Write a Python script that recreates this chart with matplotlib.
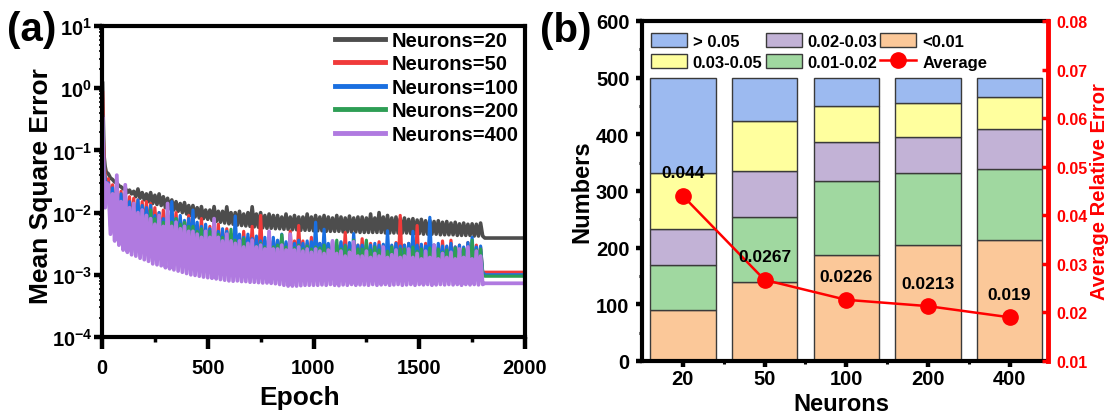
import numpy as np
import matplotlib
matplotlib.use('Agg')
import matplotlib.pyplot as plt
from matplotlib.patches import Patch
from matplotlib.lines import Line2D
from matplotlib.ticker import FixedLocator, FixedFormatter, LogLocator, NullFormatter, MultipleLocator

plt.rcParams['font.family'] = ['Liberation Sans', 'DejaVu Sans']
plt.rcParams['font.weight'] = 'bold'
plt.rcParams['axes.labelweight'] = 'bold'
plt.rcParams['mathtext.fontset'] = 'custom'
plt.rcParams['mathtext.rm'] = 'Liberation Sans:bold'
plt.rcParams['mathtext.bf'] = 'Liberation Sans:bold'
plt.rcParams['mathtext.it'] = 'Liberation Sans:bold'

# ---------------- data, panel (a): MSE vs epoch (values in units of 1e-3) ----------------
early_epochs = [3, 6, 10, 15, 20]
peak_epochs = list(range(30, 1791, 20))     # 89 local maxima
trough_epochs = list(range(40, 1801, 20))   # 89 local minima
tail_epochs = [1810, 2000]

n20_early = [1200, 320, 80, 55, 45]
n20_peaks = [42, 34, 30, 26, 25, 23, 22, 24, 21, 20,
             21, 19, 20, 18, 17, 16, 15, 14, 14.5, 13,
             13, 12, 12.5, 11, 11, 12.5, 10.5, 10.5, 12.4, 10,
             10, 10.5, 9.5, 10, 12.4, 9.5, 10, 9, 9.5, 9,
             9, 8.5, 9.5, 8.5, 9, 8.5, 8.5, 9.5, 8.5, 9,
             8.5, 9, 8.5, 8.2, 9, 8.5, 8.2, 8.8, 8.2, 8.5,
             8.5, 8.2, 9.5, 8.2, 10, 8.5, 9, 8.2, 8.5, 8,
             8.2, 7.8, 8, 7.6, 7.8, 7.4, 7.5, 7.2, 7.4, 7,
             7.2, 6.8, 7, 6.6, 6.8, 6.5, 6.6, 6.5, 6.8]
n20_troughs = [36, 31, 27, 24, 21, 20, 18, 17, 16, 15,
               14, 13.5, 13, 12, 11.5, 11, 10.5, 10, 9.5, 9,
               8.5, 8.2, 8, 7.8, 7.5, 7.2, 7, 6.8, 6.6, 6.5,
               6.3, 6.2, 6.1, 6, 5.9, 5.8, 5.7, 5.6, 5.6, 5.5,
               5.5, 5.4, 5.4, 5.3, 5.3, 5.2, 5.2, 5.2, 5.1, 5.1,
               5.1, 5.0, 5.0, 5.0, 5.0, 4.9, 4.9, 4.9, 4.9, 4.8,
               4.8, 4.8, 4.8, 4.8, 4.8, 4.7, 4.7, 4.7, 4.7, 4.7,
               4.7, 4.6, 4.6, 4.6, 4.5, 4.5, 4.5, 4.5, 4.4, 4.4,
               4.4, 4.4, 4.3, 4.3, 4.3, 4.3, 4.2, 4.2, 4.2]
n20_final = 3.9

n50_early = [850, 200, 60, 40, 30]
n50_peaks = [35, 28, 25, 22, 20, 18, 17, 16, 15, 15,
             14, 12, 10, 11, 9, 8, 10, 8, 7, 9,
             7, 6, 8, 5.5, 6, 5, 6.5, 5, 5.5, 4.5,
             4.5, 4, 5, 4, 6, 4, 9, 3.5, 4, 3.5,
             3.5, 4, 3.2, 5, 3.5, 6.2, 3.5, 3.2, 4, 3.2,
             3.2, 3.6, 3, 3.4, 3, 3.3, 4.8, 3, 3.2, 3,
             3.8, 3, 3.2, 2.9, 3.4, 3, 3.2, 2.9, 3.3, 9,
             3, 3.2, 3, 6.2, 2.9, 3.2, 2.8, 3, 2.8, 3.5,
             2.8, 3.6, 2.8, 3.0, 2.7, 3.3, 2.7, 3.0, 2.8]
n50_troughs = [14, 10, 8, 7, 6.5, 6, 5.5, 5, 4.8, 4.5,
               4.2, 4, 3.8, 3.6, 3.4, 3.2, 3, 2.9, 2.8, 2.7,
               2.6, 2.5, 2.4, 2.3, 2.2, 2.1, 2.0, 2.0, 1.9, 1.9,
               1.8, 1.8, 1.7, 1.7, 1.6, 1.6, 1.6, 1.5, 1.5, 1.5,
               1.5, 1.4, 1.4, 1.4, 1.4, 1.3, 1.3, 1.3, 1.3, 1.3,
               1.3, 1.3, 1.25, 1.25, 1.25, 1.2, 1.2, 1.2, 1.2, 1.2,
               1.2, 1.2, 1.2, 1.15, 1.15, 1.15, 1.15, 1.15, 1.1, 1.1,
               1.1, 1.1, 1.1, 1.1, 1.1, 1.1, 1.1, 1.1, 1.1, 1.1,
               1.1, 1.1, 1.1, 1.1, 1.1, 1.1, 1.1, 1.1, 1.1]
n50_final = 1.1

n100_early = [350, 100, 45, 35, 28]
n100_peaks = [30, 25, 22, 20, 17, 15, 14, 16, 13, 12,
              13, 9, 10, 8, 9, 15, 8, 9, 7.5, 8,
              11, 7, 6, 6.5, 5.5, 6, 5, 5.5, 5, 4.5,
              8.8, 4.5, 4, 4.5, 3.8, 4.2, 3.5, 4, 3.5, 4,
              3.6, 4.5, 3.4, 3.8, 3.2, 3.6, 3.2, 3.5, 3.4, 7,
              3.2, 5.4, 3.2, 3.5, 3.0, 3.4, 3.0, 3.3, 4.6, 3.0,
              3.0, 3.4, 3.0, 3.2, 3.0, 3.1, 5.1, 3.0, 3.2, 2.9,
              3.0, 3.2, 5.0, 3.0, 3.1, 2.9, 8.4, 3.0, 3.2, 2.9,
              2.9, 3.2, 2.8, 3.0, 2.8, 3.3, 4.0, 2.8, 2.9]
n100_troughs = [10, 8, 7, 6, 5.5, 5, 4.8, 4.5, 4.3, 4,
                3.8, 3.6, 3.4, 3.2, 3, 2.9, 2.8, 2.7, 2.6, 2.5,
                2.4, 2.3, 2.2, 2.1, 2.0, 2.0, 1.9, 1.9, 1.8, 1.8,
                1.7, 1.7, 1.7, 1.6, 1.6, 1.6, 1.5, 1.5, 1.5, 1.5,
                1.45, 1.45, 1.4, 1.4, 1.4, 1.4, 1.35, 1.35, 1.35, 1.35,
                1.3, 1.3, 1.3, 1.3, 1.3, 1.25, 1.25, 1.25, 1.25, 1.25,
                1.2, 1.2, 1.2, 1.2, 1.2, 1.2, 1.2, 1.2, 1.2, 1.2,
                1.15, 1.15, 1.15, 1.15, 1.15, 1.15, 1.15, 1.15, 1.15, 1.15,
                1.1, 1.1, 1.1, 1.1, 1.1, 1.1, 1.1, 1.1, 1.1]
n100_final = 1.0

n200_early = [300, 90, 35, 28, 25]
n200_peaks = [25, 20, 18, 15, 13, 11, 12, 10, 10, 9,
              11, 8, 9, 7, 10, 7, 8, 6.5, 7, 6,
              6, 5, 5.5, 4.5, 5, 4.2, 4.5, 4, 4, 5.4,
              3.6, 3.2, 3.8, 3, 3.4, 2.9, 3.2, 2.8, 3.3, 2.8,
              3, 4.4, 2.8, 3.2, 2.7, 3, 2.6, 2.9, 2.6, 2.8,
              2.7, 3, 2.6, 2.8, 3.6, 2.6, 2.9, 2.5, 3.6, 2.6,
              2.6, 3.6, 2.5, 2.8, 2.5, 2.7, 2.4, 2.8, 2.5, 2.6,
              2.6, 2.4, 2.8, 2.4, 2.6, 2.3, 2.7, 2.4, 2.6, 2.3,
              2.5, 2.3, 2.7, 2.4, 2.6, 2.3, 3.6, 2.5, 2.6]
n200_troughs = [6, 4.5, 3.5, 2.8, 2.4, 2.3, 2.5, 3, 3, 3,
                2.8, 2.6, 2.5, 2.4, 2.3, 2.2, 2.1, 2.0, 1.9, 1.8,
                1.7, 1.6, 1.6, 1.5, 1.5, 1.4, 1.4, 1.4, 1.3, 1.3,
                1.3, 1.25, 1.25, 1.2, 1.2, 1.2, 1.15, 1.15, 1.15, 1.1,
                1.1, 1.1, 1.1, 1.1, 1.1, 1.1, 1.1, 1.1, 1.1, 1.1,
                1.05, 1.05, 1.05, 1.05, 1.05, 1.05, 1.05, 1.05, 1.05, 1.05,
                1.0, 1.0, 1.0, 1.0, 1.0, 1.0, 1.0, 1.0, 1.0, 1.0,
                1.0, 1.0, 1.0, 1.0, 1.0, 1.0, 1.0, 1.0, 1.0, 1.0,
                1.0, 1.0, 1.0, 1.0, 1.0, 1.0, 1.0, 1.0, 1.0]
n200_final = 0.95

n400_early = [320, 90, 25, 12, 30]
n400_peaks = [28, 20, 40, 15, 28, 12, 14, 10, 11, 9,
              8, 6.5, 9, 6, 14, 6, 7, 5.5, 6, 5,
              5, 4.5, 4, 5, 4, 8, 4, 3.5, 4.5, 3.5,
              3.2, 3.5, 2.8, 3.2, 3.6, 2.8, 3, 2.6, 5, 2.6,
              2.6, 3, 2.5, 4.5, 2.5, 2.8, 2.4, 2.6, 2.3, 2.6,
              2.4, 2.2, 2.5, 3.5, 2.2, 2.4, 2.0, 2.3, 3.4, 2.0,
              2.0, 2.4, 1.9, 2.2, 2.0, 2.8, 1.9, 2.1, 2.5, 1.9,
              2.0, 2.6, 1.9, 2.2, 1.8, 2.4, 1.9, 3.0, 1.8, 2.2,
              1.9, 2.3, 1.8, 2.6, 1.9, 2.8, 1.8, 2.4, 2.0]
n400_troughs = [4.5, 3.5, 3.0, 2.5, 2.3, 2.1, 2.0, 1.85, 1.75, 1.65,
                1.5, 1.45, 1.4, 1.3, 1.25, 1.2, 1.15, 1.1, 1.05, 1.0,
                0.98, 0.95, 0.92, 0.9, 0.88, 0.86, 0.84, 0.82, 0.8, 0.79,
                0.8, 0.78, 0.78, 0.76, 0.76, 0.75, 0.74, 0.74, 0.73, 0.72,
                0.7, 0.68, 0.66, 0.66, 0.66, 0.67, 0.68, 0.68, 0.68, 0.68,
                0.69, 0.68, 0.7, 0.68, 0.67, 0.69, 0.68, 0.7, 0.68, 0.69,
                0.69, 0.68, 0.7, 0.68, 0.69, 0.7, 0.68, 0.69, 0.7, 0.68,
                0.69, 0.7, 0.68, 0.7, 0.69, 0.7, 0.68, 0.69, 0.7, 0.69,
                0.7, 0.69, 0.7, 0.68, 0.7, 0.69, 0.7, 0.69, 0.7]
n400_final = 0.73

series_labels = ['Neurons=20', 'Neurons=50', 'Neurons=100', 'Neurons=200', 'Neurons=400']
series_colors = ['#4D4D4D', '#F03A3A', '#1A6FE0', '#2E9E55', '#B07AE0']

# ---------------- data, panel (b) ----------------
neuron_cats = ['20', '50', '100', '200', '400']
cnt_lt001 = [90, 139, 187, 204, 213]
cnt_001_002 = [80, 116, 130, 127, 126]
cnt_002_003 = [63, 81, 69, 64, 70]
cnt_003_005 = [98, 88, 64, 61, 57]
cnt_gt005 = [169, 76, 50, 44, 34]
avg_err = [0.044, 0.0267, 0.0226, 0.0213, 0.019]
avg_err_labels = ['0.044', '0.0267', '0.0226', '0.0213', '0.019']


def build(early, peaks, troughs, final):
    ep = list(early_epochs)
    vals = list(early)
    for pe, pv, te, tv in zip(peak_epochs, peaks, trough_epochs, troughs):
        ep += [pe, te]
        vals += [pv, tv]
    ep += tail_epochs
    vals += [final, final]
    return np.array(ep), np.array(vals) * 1e-3


all_series = [
    (n20_early, n20_peaks, n20_troughs, n20_final),
    (n50_early, n50_peaks, n50_troughs, n50_final),
    (n100_early, n100_peaks, n100_troughs, n100_final),
    (n200_early, n200_peaks, n200_troughs, n200_final),
    (n400_early, n400_peaks, n400_troughs, n400_final),
]
series_lw = [2.6, 2.3, 2.3, 2.3, 2.7]

fig = plt.figure(figsize=(11.15, 4.14), dpi=100)
W, H = 1115, 414
axA = fig.add_axes([102 / W, (H - 338) / H, 423 / W, 311 / H])
axB = fig.add_axes([642 / W, (H - 362) / H, 406 / W, 340 / H])

# ---------------- panel (a) ----------------
for (e, p, t, f), c, lw in zip(all_series, series_colors, series_lw):
    x, y = build(e, p, t, f)
    axA.plot(x, y, color=c, lw=lw, solid_joinstyle='round')

axA.set_yscale('log')
axA.set_ylim(1e-4, 1e1)
axA.set_xlim(0, 2000)
ymaj = [1e-4, 1e-3, 1e-2, 1e-1, 1e0, 1e1]
axA.yaxis.set_major_locator(FixedLocator(ymaj))
axA.yaxis.set_major_formatter(FixedFormatter([r'$\mathbf{10^{%d}}$' % k for k in range(-4, 2)]))
axA.yaxis.set_minor_locator(LogLocator(base=10, subs=range(2, 10), numticks=20))
axA.yaxis.set_minor_formatter(NullFormatter())
axA.xaxis.set_major_locator(MultipleLocator(500))
axA.xaxis.set_minor_locator(MultipleLocator(250))
axA.tick_params(axis='x', which='major', direction='out', length=8.5, width=3.2, labelsize=14.5, pad=6.8)
axA.tick_params(axis='x', which='minor', direction='out', length=3.6, width=2.5)
axA.tick_params(axis='y', which='major', direction='out', length=5.5, width=3.2, labelsize=14.5, pad=1.5)
axA.tick_params(axis='y', which='minor', direction='out', length=2.2, width=1.2)
for sp in axA.spines.values():
    sp.set_linewidth(3)
axA.set_xlabel('Epoch', fontsize=19, fontweight='bold')
axA.set_ylabel('Mean Square Error', fontsize=19, fontweight='bold')
axA.xaxis.set_label_coords(0.468, -0.193)
axA.xaxis.label.set_va('center')
axA.yaxis.set_label_coords(-0.144, 0.49)
axA.yaxis.label.set_va('center')

legA_handles = [Line2D([], [], color=c, lw=3.5) for c in series_colors]
axA.legend(legA_handles, series_labels, loc='upper right', bbox_to_anchor=(0.985, 0.984),
           frameon=False, fontsize=14.5, handlelength=2.5, handletextpad=0.3,
           labelspacing=0.22, borderpad=0, borderaxespad=0)

# ---------------- panel (b) ----------------
xpos = np.arange(len(neuron_cats))
bw = 0.8
ec = '#3A3A3A'
stack = [
    (cnt_lt001, '#FBC899', '<0.01'),
    (cnt_001_002, '#A0D8A0', '0.01-0.02'),
    (cnt_002_003, '#C2B2D6', '0.02-0.03'),
    (cnt_003_005, '#FFFF9E', '0.03-0.05'),
    (cnt_gt005, '#9CBAF0', '> 0.05'),
]
bottom = np.zeros(len(neuron_cats))
handles = {}
for vals, col, lab in stack:
    axB.bar(xpos, vals, bw, bottom=bottom, color=col, edgecolor=ec, linewidth=1.0, zorder=2)
    handles[lab] = Patch(facecolor=col, edgecolor=ec, linewidth=1.0)
    bottom = bottom + np.array(vals)

axB.set_xlim(-0.5, 4.47)
axB.set_ylim(0, 600)
axB.set_xticks(xpos)
axB.set_xticklabels(neuron_cats)
axB.xaxis.set_minor_locator(FixedLocator([0.5, 1.5, 2.5, 3.5]))
axB.yaxis.set_major_locator(MultipleLocator(100))
axB.yaxis.set_minor_locator(MultipleLocator(50))
axB.tick_params(axis='both', which='major', direction='out', length=4.5, width=3.2, labelsize=14.5)
axB.tick_params(axis='x', which='major', pad=1)
axB.tick_params(axis='y', which='major', pad=4.5)
axB.tick_params(axis='both', which='minor', direction='out', length=2.5, width=2.2)
for name in ['left', 'top', 'bottom']:
    axB.spines[name].set_linewidth(3)
axB.spines['right'].set_visible(False)
axB.set_xlabel('Neurons', fontsize=17, fontweight='bold')
axB.set_ylabel('Numbers', fontsize=17, fontweight='bold')
axB.xaxis.set_label_coords(0.49, -0.124)
axB.xaxis.label.set_va('center')
axB.yaxis.set_label_coords(-0.148, 0.5)
axB.yaxis.label.set_va('center')

axB2 = axB.twinx()
axB2.set_ylim(0.01, 0.08)
axB2.plot(xpos, avg_err, color='#FF0000', lw=1.8, marker='o', ms=11, zorder=3)
for xi, v, lab in zip(xpos, avg_err, avg_err_labels):
    axB2.annotate(lab, (xi, v), xytext=(0, 16.5), textcoords='offset points',
                  ha='center', va='center', fontsize=12.5, fontweight='bold', color='black')
axB2.yaxis.set_major_locator(FixedLocator([0.01, 0.02, 0.03, 0.04, 0.05, 0.06, 0.07, 0.08]))
axB2.yaxis.set_major_formatter(FixedFormatter(['0.01', '0.02', '0.03', '0.04', '0.05', '0.06', '0.07', '0.08']))
axB2.tick_params(axis='y', which='major', direction='in', length=4, width=2.5, colors='#FF0000',
                 labelsize=11.5, pad=6)
for name in ['left', 'top', 'bottom']:
    axB2.spines[name].set_visible(False)
axB2.spines['right'].set_color('#FF0000')
axB2.spines['right'].set_linewidth(3.5)
axB2.set_ylabel('Average Relative Error', fontsize=14.5, fontweight='bold', color='#FF0000')
axB2.yaxis.set_label_coords(1.128, 0.5)
axB2.yaxis.label.set_va('center')

avg_handle = Line2D([], [], color='#FF0000', lw=1.8, marker='o', ms=11)
legB_handles = [handles['> 0.05'], handles['0.03-0.05'], handles['0.02-0.03'],
                handles['0.01-0.02'], handles['<0.01'], avg_handle]
legB_labels = ['> 0.05', '0.03-0.05', '0.02-0.03', '0.01-0.02', '<0.01', 'Average']
axB2.legend(legB_handles, legB_labels, ncol=3, loc='upper left', bbox_to_anchor=(0.022, 0.965),
            frameon=False, fontsize=12, handlelength=2.15, handleheight=0.95, handletextpad=0.35,
            columnspacing=0.2, labelspacing=0.3, borderpad=0, borderaxespad=0)

fig.text(7 / W, 1 - 30 / H, '(a)', fontsize=29, fontweight='bold', ha='left', va='center')
fig.text(540 / W, 1 - 31 / H, '(b)', fontsize=29, fontweight='bold', ha='left', va='center')

fig.savefig('out.png', dpi=100)
